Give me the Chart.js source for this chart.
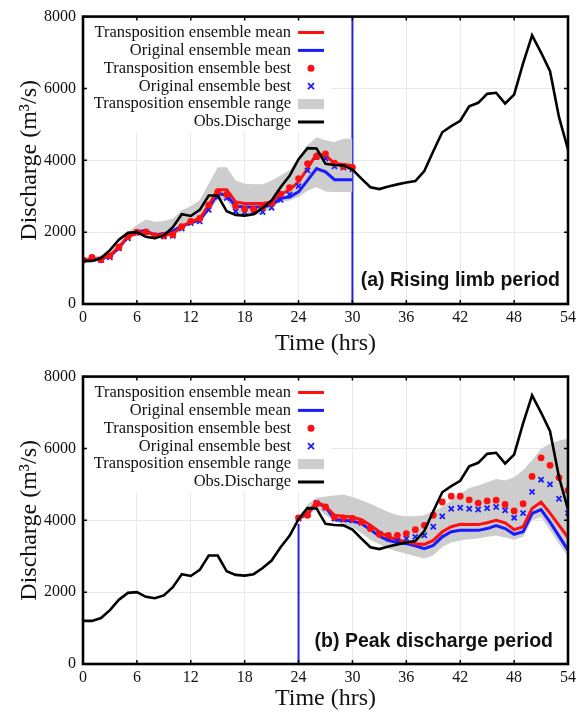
<!DOCTYPE html>
<html>
<head>
<meta charset="utf-8">
<script src="https://cdn.jsdelivr.net/npm/chart.js@4.4.1/dist/chart.umd.min.js"></script>
<style>
html, body { margin: 0; padding: 0; background: #fff; }
#wrap { position: relative; width: 580px; height: 713px; overflow: hidden; }
canvas { position: absolute; left: 0; }
</style>
</head>
<body>
<div id="wrap">
  <canvas id="chartA" width="580" height="360" style="top:0"></canvas>
  <canvas id="chartB" width="580" height="353" style="top:360px"></canvas>
</div>
<script>
Chart.defaults.font.family = "'Liberation Serif', 'Times New Roman', serif";
Chart.defaults.color = '#111';
Chart.defaults.animation = false;

// time axis (hrs)
const hours = [0,1,2,3,4,5,6,7,8,9,10,11,12,13,14,15,16,17,18,19,20,21,22,23,24,25,26,27,
               28,29,30,31,32,33,34,35,36,37,38,39,40,41,42,43,44,45,46,47,48,49,50,51,52,53,54];
const hoursA = hours.slice(0, 31);   // 0 - 30
const hoursB = hours.slice(24);      // 24 - 54
const xTicks = [0, 6, 12, 18, 24, 30, 36, 42, 48, 54];
const yTicks = [0, 2000, 4000, 6000, 8000];

// observed discharge, 0 - 54 hrs
const obsDischarge = [1200,1200,1280,1500,1790,1980,2000,1870,1830,1910,2140,2500,2450,2620,3020,3020,
  2580,2480,2460,2500,2670,2880,3250,3570,4030,4340,4330,3900,3870,3860,3740,3490,3250,3200,3270,3330,
  3380,3420,3700,4250,4780,4950,5100,5500,5600,5850,5880,5580,5830,6700,7480,7000,6480,5200,4300];

// (a) rising limb period, 0 - 30 hrs
const transMeanA = [1220,1240,1270,1350,1590,1870,1980,2000,1920,1920,1960,2150,2290,2380,2750,3180,
  3180,2840,2800,2800,2800,2840,3050,3180,3400,3770,4180,4140,3910,3880,3850];
const origMeanA = [1200,1210,1260,1330,1560,1870,2010,2040,1920,1960,2030,2170,2260,2330,2660,3090,
  3020,2720,2700,2700,2700,2750,2940,2980,3120,3440,3770,3680,3460,3460,3460];
const transBestA = [1220,1300,1230,1340,1580,1870,2000,2010,1900,1900,1930,2150,2300,2380,2750,3120,
  3050,2720,2640,2640,2700,2800,3060,3240,3490,3910,4100,4180,3920,3830,3800];
const origBestA = [1220,1280,1220,1300,1550,1830,1980,2000,1900,1880,1900,2100,2250,2300,2620,2980,
  2950,2580,2560,2580,2560,2680,2900,3050,3280,3720,4100,4050,3830,3800,3750];
const rangeHiA = [1300,1320,1350,1450,1700,2000,2200,2350,2290,2310,2380,2610,2720,2890,3350,3810,
  3810,3440,3350,3330,3330,3440,3580,3720,4070,4420,4640,4560,4510,4600,4600];
const rangeLoA = [1180,1190,1200,1280,1500,1800,1930,1950,1870,1870,1870,2100,2230,2300,2580,2900,
  2880,2530,2480,2480,2500,2700,2830,2880,2980,3150,3260,3130,3120,3120,3120];

// (b) peak discharge period, 24 - 54 hrs
const transMeanB = [4070,4190,4510,4390,4140,4110,4090,4020,3860,3680,3540,3460,3400,3350,3330,3440,
  3680,3820,3890,3880,3880,3930,4000,3930,3740,3820,4330,4510,4200,3860,3520];
const origMeanB = [4050,4180,4480,4380,4020,4000,3980,3910,3740,3560,3440,3380,3350,3290,3210,3300,
  3540,3680,3720,3720,3720,3770,3850,3770,3610,3680,4190,4300,3950,3560,3170];
const transBestB = [4070,4140,4460,4370,4090,4070,4050,3950,3770,3610,3580,3580,3630,3740,3860,4140,
  4510,4670,4670,4570,4480,4540,4560,4440,4260,4460,5220,5740,5530,5190,4830];
const origBestB = [4050,4150,4480,4350,4050,4020,4000,3930,3770,3630,3490,3440,3490,3540,3580,3820,
  4110,4320,4350,4320,4300,4340,4370,4280,4070,4200,4790,5130,5000,4600,4200];
const rangeHiB = [4100,4450,4630,4660,4690,4720,4650,4560,4460,4340,4230,4150,4110,4110,4140,4250,
  4370,4550,4740,4900,4970,5060,5150,5110,5200,5390,5670,5990,6130,6220,6270];
const rangeLoB = [4000,4080,4350,4150,3950,3880,3810,3640,3460,3330,3210,3130,3070,3000,2935,3030,
  3260,3380,3440,3470,3490,3540,3580,3520,3460,3540,4000,4090,3720,3350,2980];

// split markers (start hour, top of the blue line)
const splitA = [30, 8000];
const splitB = [24, 3900];

const legendLabels = ['Transposition ensemble mean', 'Original ensemble mean', 'Transposition ensemble best',
  'Original ensemble best', 'Transposition ensemble range', 'Obs.Discharge'];

const RED = '#ff1010', BLUE = '#1a1aff', GRAY = '#cdcdcd';

const pts = (xs, ys) => ys.map((y, i) => ({ x: xs[i], y: y }));

// frame, tick marks, legend and panel tag
const decoPlugin = {
    id: 'deco',
    afterDraw(chart, args, opts) {
        const { ctx, chartArea: a, scales } = chart;
        ctx.save();
        // legend box
        ctx.fillStyle = '#fff';
        ctx.fillRect(a.left + 1, a.top + 1, 330 - a.left, 131 - a.top);
        ctx.font = "16.5px 'Liberation Serif', serif";
        ctx.textAlign = 'right';
        ctx.textBaseline = 'middle';
        legendLabels.forEach((t, i) => {
            const y = 32.5 + i * 17.9;
            ctx.fillStyle = '#111';
            ctx.fillText(t, 291, y);
            const sx = 311;
            if (i === 0 || i === 1 || i === 5) {
                ctx.strokeStyle = i === 0 ? RED : i === 1 ? BLUE : '#000';
                ctx.lineWidth = 3;
                ctx.beginPath(); ctx.moveTo(298, y); ctx.lineTo(324, y); ctx.stroke();
            } else if (i === 2) {
                ctx.fillStyle = RED;
                ctx.beginPath(); ctx.arc(sx, y, 3.5, 0, Math.PI * 2); ctx.fill();
            } else if (i === 3) {
                ctx.strokeStyle = BLUE; ctx.lineWidth = 1.8;
                ctx.beginPath();
                ctx.moveTo(sx - 3, y - 3); ctx.lineTo(sx + 3, y + 3);
                ctx.moveTo(sx + 3, y - 3); ctx.lineTo(sx - 3, y + 3);
                ctx.stroke();
            } else {
                ctx.fillStyle = GRAY;
                ctx.fillRect(298, y - 5, 26, 10);
            }
        });
        // panel tag
        ctx.fillStyle = '#111';
        ctx.font = "bold 19.5px 'Liberation Sans', Arial, sans-serif";
        ctx.textAlign = 'right';
        ctx.fillText(opts.tag, opts.tagRight, opts.tagY);
        // inward tick marks
        ctx.strokeStyle = '#000';
        ctx.lineWidth = 1.5;
        ctx.beginPath();
        xTicks.forEach(v => {
            const px = scales.x.getPixelForValue(v);
            ctx.moveTo(px, a.bottom); ctx.lineTo(px, a.bottom - 4);
            ctx.moveTo(px, a.top); ctx.lineTo(px, a.top + 4);
        });
        yTicks.forEach(v => {
            const py = scales.y.getPixelForValue(v);
            ctx.moveTo(a.left, py); ctx.lineTo(a.left + 4, py);
            ctx.moveTo(a.right, py); ctx.lineTo(a.right - 4, py);
        });
        ctx.stroke();
        // frame
        ctx.lineWidth = 2.6;
        ctx.strokeRect(a.left, a.top, a.right - a.left, a.bottom - a.top);
        ctx.restore();
    }
};

function makeChart(id, xsModel, d, split, tag, tagRight, tagY, xAxisH, titlePad) {
    return new Chart(document.getElementById(id), {
        type: 'line',
        data: {
            datasets: [
                { label: 'Obs.Discharge', data: pts(hours, obsDischarge), borderColor: '#000', borderWidth: 2.6,
                  pointRadius: 0, order: 0 },
                { label: 'Transposition ensemble best', data: pts(xsModel, d.transBest), showLine: false,
                  pointStyle: 'circle', pointRadius: 3.4, backgroundColor: RED, borderWidth: 0, order: 1 },
                { label: 'Original ensemble best', data: pts(xsModel, d.origBest), showLine: false,
                  pointStyle: 'crossRot', pointRadius: 3.6, borderColor: BLUE, pointBorderWidth: 1.8, order: 2 },
                { label: 'Transposition ensemble mean', data: pts(xsModel, d.transMean), borderColor: RED,
                  borderWidth: 3, pointRadius: 0, order: 3 },
                { label: 'Original ensemble mean', data: pts(xsModel, d.origMean), borderColor: BLUE,
                  borderWidth: 3, pointRadius: 0, order: 4 },
                { label: 'range low', data: pts(xsModel, d.rangeLo), borderWidth: 0, pointRadius: 0,
                  fill: false, order: 6 },
                { label: 'Transposition ensemble range', data: pts(xsModel, d.rangeHi), borderWidth: 0,
                  pointRadius: 0, fill: '-1', backgroundColor: GRAY, order: 5 },
                { label: 'split', data: [{ x: split[0], y: 0 }, { x: split[0], y: split[1] }],
                  borderColor: '#2424e0', borderWidth: 2, pointRadius: 0, order: 7 }
            ]
        },
        options: {
            responsive: false,
            layout: { padding: { top: 16, right: 9, left: 0, bottom: 0 } },
            plugins: {
                legend: { display: false },
                tooltip: { enabled: false },
                deco: { tag: tag, tagRight: tagRight, tagY: tagY }
            },
            scales: {
                x: {
                    type: 'linear', min: 0, max: 54,
                    afterBuildTicks: s => { s.ticks = xTicks.map(v => ({ value: v })); },
                    afterFit: s => { s.height = xAxisH; },
                    grid: { color: '#e9e9e9', drawTicks: false },
                    border: { display: false },
                    ticks: { padding: 4, font: { size: 16 }, color: '#111', callback: v => String(v) },
                    title: { display: true, text: 'Time (hrs)', font: { size: 24 }, color: '#111',
                             padding: { top: 0, bottom: titlePad } }
                },
                y: {
                    min: 0, max: 8000,
                    afterBuildTicks: s => { s.ticks = yTicks.map(v => ({ value: v })); },
                    afterFit: s => { s.width = 83; },
                    grid: { color: '#e9e9e9', drawTicks: false },
                    border: { display: false },
                    ticks: { padding: 7, font: { size: 16 }, color: '#111', callback: v => String(v) },
                    title: { display: true, text: 'Discharge (m³/s)', font: { size: 24 }, color: '#111',
                             padding: { top: 15, bottom: 0 } }
                }
            }
        },
        plugins: [decoPlugin]
    });
}

makeChart('chartA', hoursA,
    { transMean: transMeanA, origMean: origMeanA, transBest: transBestA, origBest: origBestA,
      rangeHi: rangeHiA, rangeLo: rangeLoA },
    splitA, '(a) Rising limb period', 560, 281, 56, 2);

makeChart('chartB', hoursB,
    { transMean: transMeanB, origMean: origMeanB, transBest: transBestB, origBest: origBestB,
      rangeHi: rangeHiB, rangeLo: rangeLoB },
    splitB, '(b) Peak discharge period', 553, 282, 49, 0);
</script>
</body>
</html>
